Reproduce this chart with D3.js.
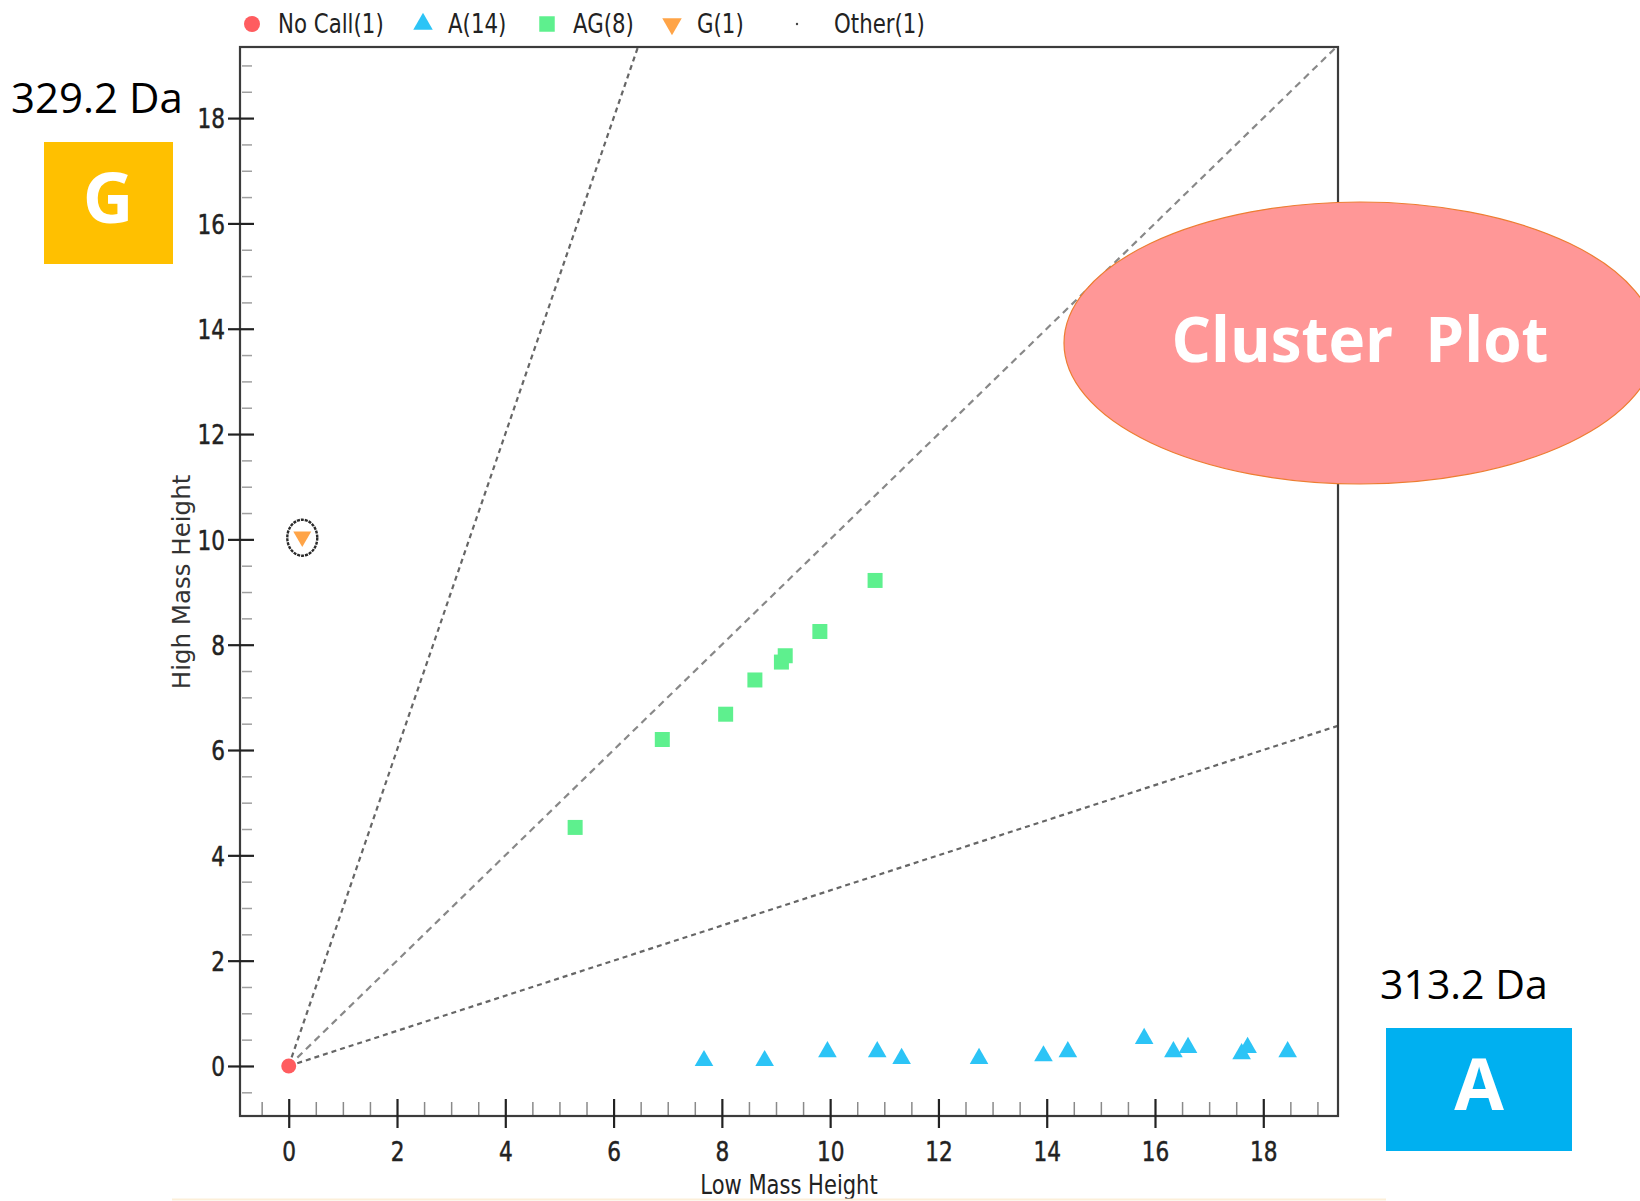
<!DOCTYPE html>
<html>
<head>
<meta charset="utf-8">
<script src="https://cdn.jsdelivr.net/npm/d3@7"></script>
<style>
  html, body { margin: 0; padding: 0; background: #fff; }
  svg { display: block; }
</style>
</head>
<body>
<div id="chart-container"></div>
<script>
// genotype clusters (Low Mass Height, High Mass Height)
const noCallX = [0];
const noCallY = [0];
const aX = [7.67, 8.79, 9.95, 10.87, 11.32, 12.75, 13.94, 14.39, 15.80, 16.34, 16.61, 17.60, 17.71, 18.45];
const aY = [0.10, 0.10, 0.27, 0.27, 0.14, 0.14, 0.19, 0.27, 0.52, 0.27, 0.35, 0.23, 0.35, 0.27];
const agX = [5.29, 6.90, 8.07, 8.61, 9.10, 9.17, 9.81, 10.83];
const agY = [4.53, 6.20, 6.68, 7.33, 7.67, 7.79, 8.25, 9.22];
const gX = [0.25];
const gY = [10.05];

// call boundaries through the origin (slope high/low)
const boundarySlopes = [3, 1, 1 / 3];

const legendNames = ["No Call", "A", "AG", "G", "Other"];
const legendCounts = [1, 14, 8, 1, 1];

const xTickValues = [0, 2, 4, 6, 8, 10, 12, 14, 16, 18];
const yTickValues = [0, 2, 4, 6, 8, 10, 12, 14, 16, 18];
const xTitle = "Low Mass Height";
const yTitle = "High Mass Height";

const colors = { nocall: "#ff5c5f", a: "#2cc4f6", ag: "#5ef08e", g: "#ffa447" };

const width = 1640, height = 1201;
const plot = { left: 240, right: 1338, top: 47, bottom: 1116 };
const font = "'DejaVu Sans', Verdana, sans-serif";
const squeeze = 0.8; // the chart text is narrow

const svg = d3.select("#chart-container").append("svg")
    .attr("width", width)
    .attr("height", height);

const x = d3.scaleLinear().domain([-0.9, 19.38]).range([plot.left, plot.right]);
const y = d3.scaleLinear().domain([-0.95, 19.35]).range([plot.bottom, plot.top]);

svg.append("clipPath").attr("id", "plot-clip")
    .append("rect")
    .attr("x", plot.left).attr("y", plot.top)
    .attr("width", plot.right - plot.left).attr("height", plot.bottom - plot.top);

// dashed boundaries
const lines = svg.append("g").attr("clip-path", "url(#plot-clip)");
lines.selectAll("line")
    .data(boundarySlopes)
    .enter().append("line")
    .attr("x1", x(0)).attr("y1", y(0))
    .attr("x2", d => x(30)).attr("y2", d => y(30 * d))
    .attr("stroke", d => d === 1 ? "#888" : "#666")
    .attr("stroke-width", 2.2)
    .attr("stroke-dasharray", d => d === 1 ? "7,5" : "5,4");

// minor ticks (every 0.5)
const xMinor = d3.range(-0.5, 19.3, 0.5).filter(v => v % 2 !== 0);
const yMinor = d3.range(-0.5, 19.3, 0.5).filter(v => v % 2 !== 0);

svg.append("g")
    .attr("transform", `translate(0,${plot.bottom})`)
    .call(d3.axisTop(x).tickValues(xMinor).tickSize(14).tickFormat("").tickSizeOuter(0))
    .call(g => g.select(".domain").remove())
    .call(g => g.selectAll("line").attr("stroke", "#8a8a8a").attr("stroke-width", 1.5));

svg.append("g")
    .attr("transform", `translate(${plot.left},0)`)
    .call(d3.axisRight(y).tickValues(yMinor).tickSize(12).tickFormat("").tickSizeOuter(0))
    .call(g => g.select(".domain").remove())
    .call(g => g.selectAll("line").attr("x1", 2).attr("stroke", "#a0a0a0").attr("stroke-width", 1.5));

// frame
svg.append("rect")
    .attr("x", plot.left).attr("y", plot.top)
    .attr("width", plot.right - plot.left).attr("height", plot.bottom - plot.top)
    .attr("fill", "none")
    .attr("stroke", "#3c3c3c")
    .attr("stroke-width", 2.2);

// major ticks + labels
const xAxis = svg.append("g")
    .attr("transform", `translate(0,${plot.bottom})`)
    .call(d3.axisBottom(x).tickValues(xTickValues).tickSize(12).tickSizeOuter(0));
xAxis.select(".domain").remove();
xAxis.selectAll("line").attr("y1", -17).attr("stroke", "#222").attr("stroke-width", 2.2);
xAxis.selectAll("text")
    .attr("y", 35).attr("dy", "0.36em")
    .attr("transform", `scale(${squeeze},1)`)
    .attr("fill", "#222")
    .attr("stroke", "#222").attr("stroke-width", 0.5)
    .style("font", `27px ${font}`);

const yAxis = svg.append("g")
    .attr("transform", `translate(${plot.left},0)`)
    .call(d3.axisLeft(y).tickValues(yTickValues).tickSize(12).tickSizeOuter(0));
yAxis.select(".domain").remove();
yAxis.selectAll("line").attr("x1", 14).attr("stroke", "#222").attr("stroke-width", 2.2);
yAxis.selectAll("text")
    .attr("x", null).attr("dy", "0.36em")
    .attr("transform", `translate(-15,0) scale(${squeeze},1)`)
    .attr("fill", "#222")
    .attr("stroke", "#222").attr("stroke-width", 0.5)
    .style("font", `27px ${font}`);

// axis titles
svg.append("text")
    .attr("transform", `translate(${(plot.left + plot.right) / 2},1194) scale(0.81,1)`)
    .attr("text-anchor", "middle")
    .attr("fill", "#222")
    .style("font", `26px ${font}`)
    .text(xTitle);

svg.append("text")
    .attr("transform", `translate(190,582) rotate(-90) scale(0.98,1)`)
    .attr("text-anchor", "middle")
    .attr("fill", "#333")
    .style("font", `25px ${font}`)
    .text(yTitle);

// points
const pts = svg.append("g");
const zip = (xs, ys) => xs.map((v, i) => ({ x: v, y: ys[i] }));

pts.selectAll(".ag")
    .data(zip(agX, agY))
    .enter().append("path")
    .attr("class", "ag")
    .attr("transform", d => `translate(${x(d.x)},${y(d.y)})`)
    .attr("d", d3.symbol(d3.symbolSquare, 225))
    .attr("fill", colors.ag);

pts.selectAll(".a")
    .data(zip(aX, aY))
    .enter().append("path")
    .attr("class", "a")
    .attr("transform", d => `translate(${x(d.x)},${y(d.y)})`)
    .attr("d", d3.symbol(d3.symbolTriangle, 150))
    .attr("fill", colors.a);

pts.selectAll(".g")
    .data(zip(gX, gY))
    .enter().append("path")
    .attr("class", "g")
    .attr("transform", d => `translate(${x(d.x)},${y(d.y)}) rotate(180)`)
    .attr("d", d3.symbol(d3.symbolTriangle, 140))
    .attr("fill", colors.g);

// selection ring round the G sample
pts.selectAll(".sel")
    .data(zip(gX, gY))
    .enter().append("ellipse")
    .attr("cx", d => x(d.x)).attr("cy", d => y(d.y) + 1)
    .attr("rx", 15).attr("ry", 18)
    .attr("fill", "none")
    .attr("stroke", "#2a2a2a")
    .attr("stroke-width", 2.4)
    .attr("stroke-dasharray", "3,1");

pts.selectAll(".nc")
    .data(zip(noCallX, noCallY))
    .enter().append("circle")
    .attr("cx", d => x(d.x)).attr("cy", d => y(d.y))
    .attr("r", 7.5)
    .attr("fill", colors.nocall);

// legend
const legendX = [252, 423, 547, 672, 797];
const legendTextGap = [26, 25, 26, 25, 37];
const legendShapes = [
    g => g.append("circle").attr("r", 8).attr("fill", colors.nocall),
    g => g.append("path").attr("d", d3.symbol(d3.symbolTriangle, 165)).attr("fill", colors.a),
    g => g.append("path").attr("d", d3.symbol(d3.symbolSquare, 240)).attr("fill", colors.ag),
    g => g.append("path").attr("d", d3.symbol(d3.symbolTriangle, 165)).attr("transform", "rotate(180)").attr("fill", colors.g),
    g => g.append("circle").attr("r", 1.2).attr("fill", "#444")
];

const legend = svg.selectAll(".legend")
    .data(legendNames)
    .enter().append("g")
    .attr("class", "legend")
    .attr("transform", (d, i) => `translate(${legendX[i]},24)`);

legend.each(function(d, i) { legendShapes[i](d3.select(this)); });

legend.append("text")
    .attr("transform", (d, i) => `translate(${legendTextGap[i]},0) scale(0.82,1)`)
    .attr("dy", "0.36em")
    .attr("fill", "#222")
    .style("font", `26px ${font}`)
    .text((d, i) => `${d}(${legendCounts[i]})`);

// slide annotations
const note = "'Open Sans', 'Noto Sans', sans-serif";

svg.append("text")
    .attr("x", 11).attr("y", 113)
    .attr("fill", "#000")
    .style("font", `42px ${note}`)
    .text("329.2 Da");

svg.append("rect")
    .attr("x", 44).attr("y", 142)
    .attr("width", 129).attr("height", 122)
    .attr("fill", "#ffc000");

svg.append("text")
    .attr("x", 108).attr("y", 223)
    .attr("text-anchor", "middle")
    .attr("fill", "#fff")
    .style("font", `bold 70px ${note}`)
    .text("G");

svg.append("text")
    .attr("x", 1380).attr("y", 999)
    .attr("fill", "#000")
    .style("font", `41px ${note}`)
    .text("313.2 Da");

svg.append("rect")
    .attr("x", 1386).attr("y", 1028)
    .attr("width", 186).attr("height", 123)
    .attr("fill", "#00b0f0");

svg.append("text")
    .attr("x", 1479).attr("y", 1110)
    .attr("text-anchor", "middle")
    .attr("fill", "#fff")
    .style("font", `bold 72px ${note}`)
    .text("A");

svg.append("ellipse")
    .attr("cx", 1360).attr("cy", 343)
    .attr("rx", 296).attr("ry", 141)
    .attr("fill", "#ff9797")
    .attr("stroke", "#ed7d31")
    .attr("stroke-width", 1.2);

svg.append("text")
    .attr("x", 1360).attr("y", 362)
    .attr("text-anchor", "middle")
    .attr("fill", "#fff")
    .style("font", `bold 62px ${note}`)
    .style("white-space", "pre")
    .text("Cluster  Plot");

svg.append("line")
    .attr("x1", 172).attr("x2", 1386)
    .attr("y1", 1199.5).attr("y2", 1199.5)
    .attr("stroke", "#fcefd9")
    .attr("stroke-width", 2);
</script>
</body>
</html>
